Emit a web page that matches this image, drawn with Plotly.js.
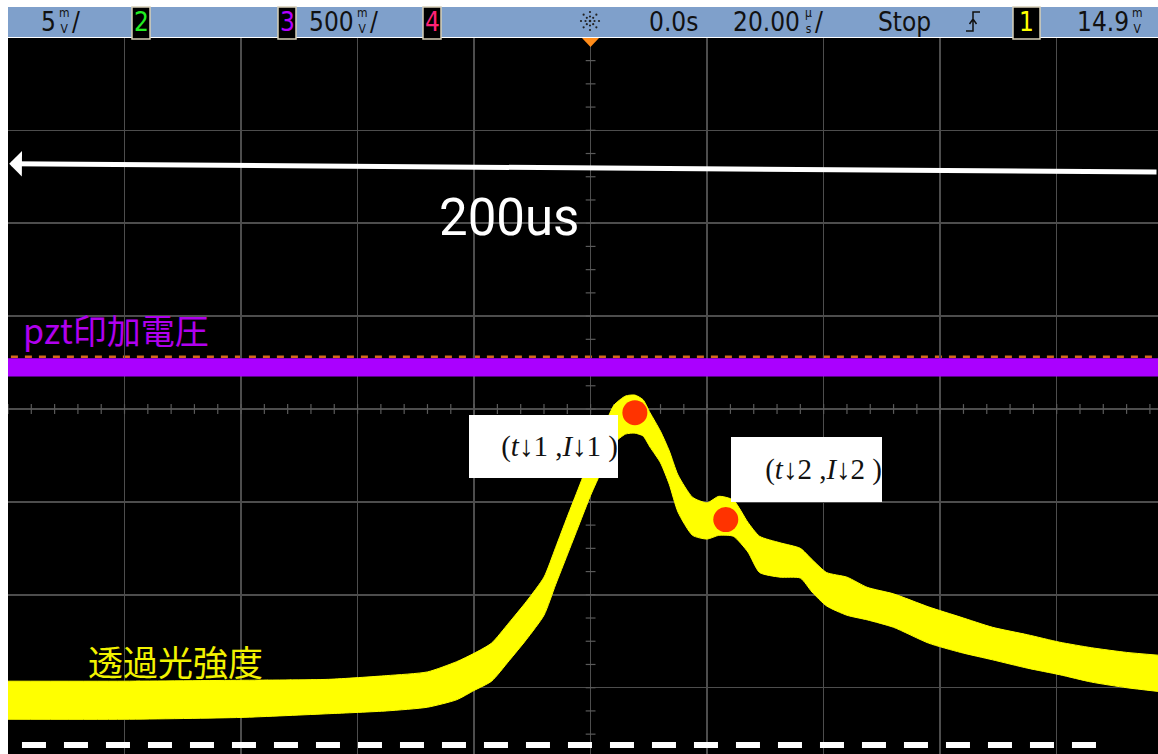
<!DOCTYPE html>
<html>
<head>
<meta charset="utf-8">
<script src="https://cdn.plot.ly/plotly-3.0.1.min.js"></script>
<style>
  html, body { margin: 0; padding: 0; background: #ffffff; }
  #scope { width: 1158px; height: 754px; }
</style>
</head>
<body>
<div id="scope"></div>
<script>
// Horizontal axis: time in microseconds (20 us/div). Vertical axis: screen divisions.

// Transmitted light intensity (yellow trace): upper and lower edges of the noisy band
const timeUs = [-100, -80, -60, -45, -35, -28, -23, -20, -17, -14, -11, -8, -6, -4, -2, 0, 2, 4, 6, 7.6,
                9, 10.2, 12, 13.5, 15, 17.5, 20, 22, 24.5, 27, 29, 32.5, 36, 38, 40.5, 44, 47.5, 52, 58, 63.5,
                69, 75, 80.5, 86, 92, 97.4];
const transUpper = [-2.93, -2.93, -2.92, -2.91, -2.87, -2.83, -2.72, -2.63, -2.52, -2.30, -2.07, -1.81, -1.49, -1.16, -0.84, -0.52, -0.24, 0.04, 0.14, 0.15,
                    0.10, -0.04, -0.24, -0.45, -0.71, -0.95, -1.01, -0.94, -0.98, -1.22, -1.37, -1.44, -1.50, -1.62, -1.76, -1.81, -1.92, -1.99, -2.13, -2.24,
                    -2.35, -2.43, -2.51, -2.57, -2.62, -2.65];
const transLower = [-3.34, -3.34, -3.32, -3.28, -3.25, -3.21, -3.13, -3.03, -2.93, -2.71, -2.48, -2.22, -1.89, -1.57, -1.25, -0.93, -0.65, -0.37, -0.27, -0.26,
                    -0.29, -0.41, -0.58, -0.81, -1.11, -1.36, -1.40, -1.36, -1.37, -1.54, -1.76, -1.81, -1.82, -1.97, -2.12, -2.22, -2.27, -2.35, -2.52, -2.62,
                    -2.70, -2.79, -2.86, -2.94, -3.00, -3.04];

// PZT drive voltage (purple trace): flat noisy band
const pztTime  = [-100, -50, 0, 50, 97.4];
const pztUpper = [0.54, 0.54, 0.54, 0.54, 0.54];
const pztLower = [0.355, 0.355, 0.355, 0.355, 0.355];

// Marked points (t1, I1) and (t2, I2)
const markTime  = [7.6, 23.2];
const markLevel = [-0.04, -1.19];
const markLabels = ['(<i>t</i>↓1 ,<i>I</i>↓1 )', '(<i>t</i>↓2 ,<i>I</i>↓2 )'];

// Trace names written on screen
const pztLabel = 'pzt印加電圧';
const transLabel = '透過光強度';
const spanLabel = '200us';

// Status bar readouts
const ch1Scale = '5', ch3Scale = '500', trigDelay = '0.0s', timeScale = '20.00', runState = 'Stop', trigLevel = '14.9';

// ---- geometry helpers (figure pixels -> paper coordinates) ----
const W = 1158, H = 754;
const M = {l: 8, r: 0, t: 38, b: 0};
const px = x => (x - M.l) / (W - M.l - M.r);
const py = y => (H - M.b - y) / (H - M.t - M.b);

const xRange = [-100, 97.39];
const yRange = [-3.7137, 3.9935];

const traces = [];

// center-axis minor ticks
const hTickX = [], hTickY = [];
for (let t = -100; t <= 97; t += 4) { hTickX.push(t); hTickY.push(0); }
const vTickX = [], vTickY = [];
for (let d = -3.75; d <= 4; d += 0.25) { vTickX.push(0); vTickY.push(d); }
traces.push({x: hTickX, y: hTickY, mode: 'markers', hoverinfo: 'skip', showlegend: false,
  marker: {symbol: 'line-ns', size: 7, line: {color: '#5a5a5a', width: 1.2}}});
traces.push({x: vTickX, y: vTickY, mode: 'markers', hoverinfo: 'skip', showlegend: false,
  marker: {symbol: 'line-ew', size: 7, line: {color: '#5a5a5a', width: 1.2}}});

// purple band
traces.push({x: pztTime, y: pztLower, mode: 'lines', line: {width: 1, color: '#aa00ff'}, hoverinfo: 'skip', showlegend: false});
traces.push({x: pztTime, y: pztUpper, mode: 'lines', fill: 'tonexty', fillcolor: '#aa00ff',
  line: {width: 1, color: '#aa00ff'}, hoverinfo: 'skip', showlegend: false});

// yellow band
traces.push({x: timeUs, y: transLower, mode: 'lines', line: {width: 1, color: '#ffff00', shape: 'spline', smoothing: 0.6},
  hoverinfo: 'skip', showlegend: false});
traces.push({x: timeUs, y: transUpper, mode: 'lines', fill: 'tonexty', fillcolor: '#ffff00',
  line: {width: 1, color: '#ffff00', shape: 'spline', smoothing: 0.6}, hoverinfo: 'skip', showlegend: false});

// red markers
traces.push({x: markTime, y: markLevel, mode: 'markers', hoverinfo: 'skip', showlegend: false,
  marker: {size: 25, color: '#ff3300', line: {width: 0}}});

const shapes = [];
const annotations = [];

// status bar
shapes.push({type: 'rect', xref: 'paper', yref: 'paper', x0: px(8), x1: px(1158), y0: py(37), y1: py(7),
  fillcolor: '#7fa0cb', line: {width: 0}, layer: 'above'});

const barFamily = 'DejaVu Sans Condensed, Liberation Sans Narrow, sans-serif';
function chanBox(x0, x1, num, color) {
  shapes.push({type: 'rect', xref: 'paper', yref: 'paper', x0: px(x0), x1: px(x1), y0: py(39), y1: py(7),
    fillcolor: '#000000', line: {color: '#d8d0b8', width: 1.5}, layer: 'above'});
  annotations.push({xref: 'paper', yref: 'paper', x: px((x0 + x1) / 2), y: py(22), xanchor: 'center', yanchor: 'middle',
    text: num, showarrow: false, font: {family: barFamily, size: 26, color: color}});
}
chanBox(132, 150, '2', '#22ee22');
chanBox(278, 296, '3', '#b400ff');
chanBox(423, 441, '4', '#ff2277');
chanBox(1013, 1040, '1', '#ffff00');

const barFont = {family: barFamily, size: 26, color: '#111111'};
const unitFont = {family: 'DejaVu Sans Condensed, sans-serif', size: 12, color: '#111111'};
function barText(str, x, anchor) {
  annotations.push({xref: 'paper', yref: 'paper', x: px(x), y: py(22), xanchor: anchor || 'left', yanchor: 'middle',
    text: str, showarrow: false, font: barFont, borderpad: 0});
}
function stackUnit(top, bottom, x) {
  annotations.push({xref: 'paper', yref: 'paper', x: px(x), y: py(21), xanchor: 'center', yanchor: 'middle',
    text: top + '<br>' + bottom, showarrow: false, font: unitFont, borderpad: 0});
}
barText(ch1Scale, 57, 'right'); stackUnit('m', 'V', 64); barText('/', 71);
barText(ch3Scale, 355, 'right'); stackUnit('m', 'V', 362); barText('/', 369);
barText(trigDelay, 648);
barText(timeScale, 801, 'right'); stackUnit('µ', 's', 808); barText('/', 814);
barText(runState, 877);
barText(trigLevel, 1130, 'right'); stackUnit('m', 'V', 1137);

// acquisition icon: dotted starburst
for (let k = 0; k < 8; k++) {
  const a = k * Math.PI / 4;
  for (const r of [4.5, 9]) {
    const cx = 590 + r * Math.cos(a), cy = 21 + r * Math.sin(a);
    shapes.push({type: 'circle', xref: 'paper', yref: 'paper', xsizemode: 'pixel', ysizemode: 'pixel',
      xanchor: px(cx), yanchor: py(cy), x0: -1.1, x1: 1.1, y0: -1.1, y1: 1.1,
      fillcolor: '#222222', line: {width: 0}, layer: 'above'});
  }
}
shapes.push({type: 'circle', xref: 'paper', yref: 'paper', xsizemode: 'pixel', ysizemode: 'pixel',
  xanchor: px(590), yanchor: py(21), x0: -1.3, x1: 1.3, y0: -1.3, y1: 1.3,
  fillcolor: '#222222', line: {width: 0}, layer: 'above'});

// trigger edge symbol
shapes.push({type: 'path', xref: 'paper', yref: 'paper', layer: 'above', line: {color: '#111111', width: 1.5},
  path: `M${px(966)},${py(31)} L${px(973)},${py(31)} L${px(973)},${py(12)} L${px(980)},${py(12)} ` +
        `M${px(969.5)},${py(24)} L${px(973)},${py(19)} L${px(976.5)},${py(24)}`});

// trigger position marker
shapes.push({type: 'path', xref: 'paper', yref: 'paper', layer: 'above', fillcolor: '#ff8c1a', line: {width: 0},
  path: `M${px(582)},${py(38)} L${px(599)},${py(38)} L${px(590.5)},${py(47)} Z`});

// PZT reference level (orange dashes)
shapes.push({type: 'line', xref: 'x', yref: 'y', x0: -99.5, x1: 97.39, y0: 0.563, y1: 0.563,
  line: {color: '#d2691e', width: 2.5, dash: '7px,7px'}, layer: 'below'});

// zero level of transmitted intensity (white dashes)
shapes.push({type: 'line', xref: 'x', yref: 'y', x0: -97.6, x1: 86.8, y0: -3.617, y1: -3.617,
  line: {color: '#ffffff', width: 6, dash: '24px,18px'}, layer: 'above'});

// scan span arrow
annotations.push({xref: 'x', yref: 'y', axref: 'x', ayref: 'y', x: -99.8, y: 2.64, ax: 97.39, ay: 2.55,
  text: '', showarrow: true, arrowhead: 1, arrowsize: 0.85, arrowwidth: 5, arrowcolor: '#ffffff', standoff: 0});
annotations.push({xref: 'x', yref: 'y', x: -26.4, y: 2.06, xanchor: 'left', yanchor: 'middle', showarrow: false,
  text: spanLabel, font: {family: 'Roboto, sans-serif', size: 51, color: '#ffffff'}});

// trace labels
annotations.push({xref: 'x', yref: 'y', x: -97.8, y: 0.86, xanchor: 'left', yanchor: 'middle', showarrow: false,
  text: pztLabel, font: {family: 'Noto Sans CJK JP, sans-serif', size: 34, color: '#b000ee'}});
annotations.push({xref: 'x', yref: 'y', x: -86.6, y: -2.71, xanchor: 'left', yanchor: 'middle', showarrow: false,
  text: transLabel, font: {family: 'Noto Sans CJK JP, sans-serif', size: 35, color: '#f2f200'}});

// point labels in white boxes
const boxPos = [{x: -20.9, y: -0.065, w: 149, h: 63}, {x: 24.09, y: -0.301, w: 151, h: 65}];
markLabels.forEach((lab, i) => {
  const b = boxPos[i];
  annotations.push({xref: 'x', yref: 'y', x: b.x, y: b.y, xanchor: 'left', yanchor: 'top', showarrow: false,
    width: b.w, height: b.h, bgcolor: '#ffffff', borderpad: 0, borderwidth: 0, align: 'right', valign: 'middle',
    text: lab, font: {family: 'Liberation Serif, DejaVu Serif, serif', size: 29, color: '#111111'}});
});

const layout = {
  width: W, height: H,
  margin: {l: M.l, r: M.r, t: M.t, b: M.b, pad: 0},
  paper_bgcolor: '#ffffff', plot_bgcolor: '#000000',
  showlegend: false,
  xaxis: {range: xRange, tick0: 0, dtick: 20, showgrid: true, gridcolor: '#4d4d4d', gridwidth: 1.5,
          zeroline: false, showticklabels: false, ticks: '', showline: false, fixedrange: true},
  yaxis: {range: yRange, tick0: 0, dtick: 1, showgrid: true, gridcolor: '#4d4d4d', gridwidth: 1.5,
          zeroline: false, showticklabels: false, ticks: '', showline: false, fixedrange: true},
  shapes: shapes,
  annotations: annotations
};

Plotly.newPlot('scope', traces, layout, {staticPlot: true, displayModeBar: false});
</script>
</body>
</html>
